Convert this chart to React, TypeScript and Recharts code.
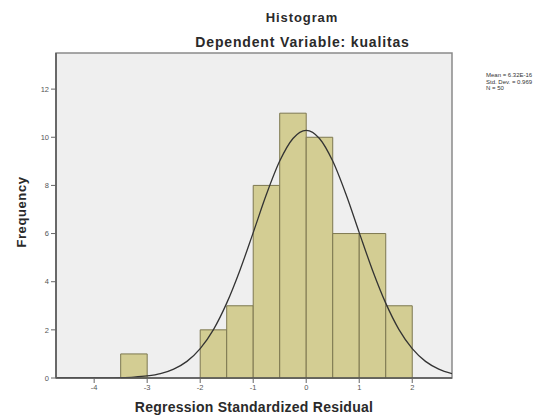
import {
  CartesianGrid,
  ComposedChart,
  Line,
  ReferenceArea,
  XAxis,
  YAxis,
} from "recharts";

// histogram bins (left edge, right edge, frequency)
const binFrom = [-3.5, -2, -1.5, -1, -0.5, 0, 0.5, 1, 1.5];
const binTo = [-3, -1.5, -1, -0.5, 0, 0.5, 1, 1.5, 2];
const counts = [1, 2, 3, 8, 11, 10, 6, 6, 3];

// normal curve
const curveX = [
  -4.7, -4.5, -4.25, -4, -3.75, -3.5, -3.25, -3, -2.75, -2.5, -2.25, -2, -1.75,
  -1.5, -1.25, -1, -0.75, -0.5, -0.25, 0, 0.25, 0.5, 0.75, 1, 1.25, 1.5, 1.75,
  2, 2.25, 2.5, 2.75,
];
const curveY = [
  0, 0, 0, 0.002, 0.006, 0.015, 0.037, 0.085, 0.18, 0.37, 0.69, 1.22, 2.01,
  3.11, 4.48, 6.04, 7.63, 9.01, 9.95, 10.29, 9.95, 9.01, 7.63, 6.04, 4.48, 3.11,
  2.01, 1.22, 0.69, 0.37, 0.18,
];

const xTicks = [-4, -3, -2, -1, 0, 1, 2];
const yTicks = [0, 2, 4, 6, 8, 10, 12];
const xDomain = [-4.72, 2.75];
const yDomain = [0, 13.5];
const stats = ["Mean = 6.32E-16", "Std. Dev. = 0.969", "N = 50"];

const curve = curveX.map((x, i) => ({ x, y: curveY[i] }));

const font = "'Liberation Sans', Arial, sans-serif";
const tickStyle = { fill: "#555", fontSize: 7.5, fontFamily: font };

export default function App() {
  return (
    <div style={{ position: "absolute", left: 0, top: 0, width: 539, height: 416, background: "#fff", fontFamily: font }}>
      <div style={{ position: "absolute", left: 0, width: 604, top: 10, textAlign: "center", fontSize: 13, letterSpacing: 0.9, fontWeight: "bold", color: "#2a2a2a" }}>
        Histogram
      </div>
      <div style={{ position: "absolute", left: 0, width: 605, top: 34, textAlign: "center", fontSize: 14, letterSpacing: 0.85, fontWeight: "bold", color: "#2a2a2a" }}>
        Dependent Variable: kualitas
      </div>
      <div style={{ position: "absolute", left: 486, top: 72, fontSize: 6, lineHeight: "6.5px", color: "#333" }}>
        {stats.map((s) => (
          <div key={s}>{s}</div>
        ))}
      </div>
      <div
        style={{
          position: "absolute",
          left: 21,
          top: 212,
          transform: "translate(-50%, -50%) rotate(-90deg)",
          fontSize: 13,
          letterSpacing: 0.6,
          fontWeight: "bold",
          color: "#2a2a2a",
          whiteSpace: "nowrap",
        }}
      >
        Frequency
      </div>
      <div style={{ position: "absolute", left: 0, width: 508, top: 399, textAlign: "center", fontSize: 14, letterSpacing: 0.25, fontWeight: "bold", color: "#2a2a2a" }}>
        Regression Standardized Residual
      </div>
      <ComposedChart
        width={539}
        height={416}
        data={curve}
        margin={{ top: 53, right: 87, bottom: 0, left: 0 }}
      >
        <CartesianGrid fill="#efefef" vertical={false} horizontal={false} />
        <XAxis
          dataKey="x"
          type="number"
          domain={xDomain}
          allowDataOverflow
          ticks={xTicks}
          height={38}
          tick={tickStyle}
          tickSize={5}
          axisLine={{ stroke: "#555", strokeWidth: 1.5 }}
          tickLine={{ stroke: "#666" }}
        />
        <YAxis
          type="number"
          domain={yDomain}
          allowDataOverflow
          ticks={yTicks}
          width={56}
          tick={tickStyle}
          tickSize={5}
          axisLine={{ stroke: "#555", strokeWidth: 1.5 }}
          tickLine={{ stroke: "#666" }}
        />
        {/* plot frame */}
        <ReferenceArea
          x1={xDomain[0]}
          x2={xDomain[1]}
          y1={yDomain[0]}
          y2={yDomain[1]}
          fill="none"
          stroke="#8a8a8a"
          strokeWidth={1.5}
        />
        {counts.map((c, i) => (
          <ReferenceArea
            key={i}
            x1={binFrom[i]}
            x2={binTo[i]}
            y1={0}
            y2={c}
            fill="#d3cd93"
            fillOpacity={1}
            stroke="#7d7850"
            strokeWidth={1}
          />
        ))}
        <Line
          type="monotone"
          dataKey="y"
          stroke="#333"
          strokeWidth={1.3}
          dot={false}
          activeDot={false}
          isAnimationActive={false}
        />
      </ComposedChart>
    </div>
  );
}
